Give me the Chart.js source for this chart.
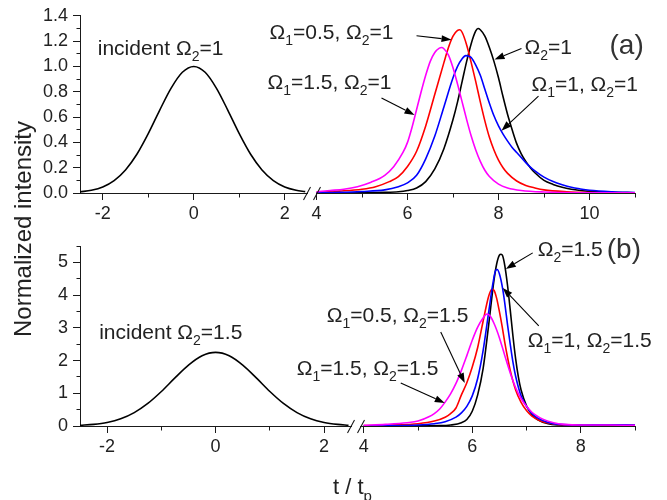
<!DOCTYPE html>
<html>
<head>
<meta charset="utf-8">
<script src="https://cdn.jsdelivr.net/npm/chart.js@4/dist/chart.umd.min.js"></script>
<style>
  html, body { margin: 0; padding: 0; background: #fff; }
  #wrap { position: relative; width: 667px; height: 500px; }
  #wrap canvas { position: absolute; left: 0; top: 0; }
</style>
</head>
<body>
<div id="wrap">
  <canvas id="panelA" width="667" height="500"></canvas>
  <canvas id="panelB" width="667" height="500"></canvas>
</div>
<script>
// ---- incident pulses (time in units of t_p) ----
const tIncident = [-2.5, -2.25, -2, -1.75, -1.5, -1.25, -1, -0.75, -0.5, -0.25, 0,
                   0.25, 0.5, 0.75, 1, 1.25, 1.5, 1.75, 2, 2.25, 2.45];
const vIncidentA = [0.009, 0.022, 0.048, 0.098, 0.182, 0.306, 0.469, 0.653, 0.827, 0.954, 1,
                    0.954, 0.827, 0.653, 0.469, 0.306, 0.182, 0.098, 0.048, 0.022, 0.011];
const vIncidentB = [0.02, 0.049, 0.108, 0.22, 0.41, 0.69, 1.055, 1.47, 1.86, 2.146, 2.25,
                    2.146, 1.86, 1.47, 1.055, 0.69, 0.41, 0.22, 0.108, 0.049, 0.024];

// ---- transmitted pulses, Omega_2 = 1 ----
const tBlackA = [4.0, 5.0, 5.5, 5.8, 6.0, 6.2, 6.4, 6.6, 6.8, 7.0, 7.1, 7.2, 7.3, 7.4, 7.5, 7.55, 7.6, 7.7, 7.8, 7.9,
                 8.0, 8.1, 8.2, 8.3, 8.4, 8.5, 8.6, 8.7, 8.8, 9.0, 9.2, 9.4, 9.6, 9.8, 10.0, 10.5, 11.0];
const vBlackA = [0.0, 0.002, 0.005, 0.01, 0.02, 0.04, 0.09, 0.19, 0.35, 0.58, 0.72, 0.88, 1.04, 1.18, 1.28, 1.30, 1.29, 1.24, 1.15, 1.04,
                 0.91, 0.76, 0.62, 0.50, 0.39, 0.31, 0.25, 0.2, 0.16, 0.10, 0.068, 0.045, 0.03, 0.02, 0.013, 0.005, 0.002];

const tRedA = [4.0, 4.5, 5.0, 5.3, 5.6, 5.8, 6.0, 6.2, 6.4, 6.6, 6.8, 6.9, 7.0, 7.1, 7.15, 7.2, 7.3, 7.4, 7.5, 7.6,
               7.7, 7.8, 7.9, 8.0, 8.1, 8.2, 8.4, 8.6, 8.8, 9.0, 9.5, 10.0, 11.0];
const vRedA = [0.005, 0.015, 0.03, 0.05, 0.09, 0.13, 0.21, 0.33, 0.53, 0.78, 1.03, 1.15, 1.24, 1.285, 1.29, 1.27, 1.17, 1.03, 0.88, 0.72,
               0.57, 0.44, 0.34, 0.26, 0.20, 0.155, 0.095, 0.06, 0.04, 0.025, 0.01, 0.004, 0.001];

const tBlueA = [4.0, 4.5, 5.0, 5.5, 5.8, 6.0, 6.2, 6.4, 6.6, 6.8, 7.0, 7.1, 7.2, 7.28, 7.35, 7.4, 7.5, 7.6, 7.7, 7.8,
                7.9, 8.0, 8.1, 8.2, 8.3, 8.4, 8.5, 8.6, 8.7, 8.8, 9.0, 9.2, 9.4, 9.6, 9.8, 10.0, 10.5, 11.0];
const vBlueA = [0.002, 0.005, 0.012, 0.025, 0.05, 0.08, 0.14, 0.27, 0.45, 0.68, 0.91, 1.00, 1.06, 1.085, 1.08, 1.07, 1.01, 0.93, 0.82, 0.71,
                0.61, 0.53, 0.465, 0.41, 0.36, 0.32, 0.28, 0.24, 0.205, 0.175, 0.125, 0.09, 0.065, 0.045, 0.032, 0.022, 0.01, 0.004];

const tMagentaA = [4.0, 4.3, 4.6, 4.9, 5.2, 5.5, 5.7, 5.9, 6.0, 6.1, 6.2, 6.3, 6.4, 6.5, 6.6, 6.7, 6.75, 6.8, 6.9, 7.0,
                   7.1, 7.2, 7.3, 7.4, 7.5, 7.6, 7.7, 7.8, 8.0, 8.2, 8.5, 9.0, 10.0, 11.0];
const vMagentaA = [0.01, 0.02, 0.03, 0.05, 0.085, 0.14, 0.21, 0.32, 0.40, 0.52, 0.66, 0.80, 0.93, 1.04, 1.11, 1.145, 1.15, 1.14, 1.09, 0.99,
                   0.86, 0.72, 0.58, 0.45, 0.34, 0.25, 0.18, 0.13, 0.07, 0.04, 0.02, 0.008, 0.002, 0.001];

// ---- transmitted pulses, Omega_2 = 1.5 ----
const tBlackB = [4.0, 5.0, 5.4, 5.6, 5.8, 5.9, 6.0, 6.1, 6.2, 6.3, 6.4, 6.45, 6.5, 6.53, 6.56, 6.6, 6.65, 6.7, 6.75, 6.8,
                 6.85, 6.9, 7.0, 7.1, 7.2, 7.4, 7.6, 8.0, 8.5, 9.0];
const vBlackB = [0.0, 0.005, 0.01, 0.03, 0.1, 0.2, 0.45, 0.95, 1.75, 3.05, 4.45, 4.95, 5.22, 5.25, 5.2, 4.9, 4.3, 3.55, 2.75, 2.05,
                 1.5, 1.1, 0.62, 0.35, 0.2, 0.07, 0.03, 0.01, 0.01, 0.01];

const tBlueB = [4.0, 4.5, 5.0, 5.3, 5.5, 5.7, 5.8, 5.9, 6.0, 6.1, 6.2, 6.3, 6.38, 6.43, 6.46, 6.5, 6.56, 6.6, 6.65, 6.7,
                6.75, 6.8, 6.9, 7.0, 7.1, 7.2, 7.4, 7.6, 8.0, 8.5, 9.0];
const vBlueB = [0.005, 0.01, 0.03, 0.07, 0.13, 0.27, 0.4, 0.6, 0.92, 1.45, 2.3, 3.45, 4.35, 4.75, 4.78, 4.65, 4.2, 3.75, 3.1, 2.5,
                1.95, 1.52, 0.92, 0.6, 0.38, 0.25, 0.11, 0.05, 0.03, 0.04, 0.03];

const tRedB = [4.0, 4.5, 5.0, 5.3, 5.5, 5.6, 5.7, 5.8, 5.9, 6.0, 6.1, 6.2, 6.3, 6.36, 6.4, 6.45, 6.5, 6.55, 6.6, 6.65,
               6.7, 6.8, 6.9, 7.0, 7.1, 7.25, 7.5, 7.8, 8.0, 8.5, 9.0];
const vRedB = [0.01, 0.03, 0.07, 0.15, 0.27, 0.38, 0.55, 0.95, 1.32, 1.8, 2.4, 3.2, 3.95, 4.18, 4.15, 3.9, 3.5, 3.05, 2.55, 2.1,
               1.7, 1.1, 0.72, 0.47, 0.3, 0.16, 0.06, 0.02, 0.02, 0.03, 0.02];

const tMagentaB = [4.0, 4.4, 4.8, 5.0, 5.2, 5.3, 5.4, 5.5, 5.6, 5.7, 5.8, 5.9, 6.0, 6.1, 6.2, 6.27, 6.32, 6.4, 6.5, 6.6,
                   6.7, 6.8, 6.9, 7.0, 7.1, 7.2, 7.3, 7.5, 7.7, 8.0, 8.5, 9.0];
const vMagentaB = [0.02, 0.05, 0.1, 0.15, 0.28, 0.38, 0.52, 0.73, 0.98, 1.3, 1.7, 2.15, 2.62, 3.02, 3.3, 3.42, 3.38, 3.14, 2.7, 2.15,
                   1.62, 1.17, 0.84, 0.6, 0.42, 0.3, 0.21, 0.1, 0.05, 0.03, 0.03, 0.02];

// ---- tick values ----
const yTicksA = [0, 0.2, 0.4, 0.6, 0.8, 1.0, 1.2, 1.4];
const yMinorA = [0.1, 0.3, 0.5, 0.7, 0.9, 1.1, 1.3];
const yTicksB = [0, 1, 2, 3, 4, 5];
const yMinorB = [0.5, 1.5, 2.5, 3.5, 4.5, 5.5];
const xTicksLeft = [-2, 0, 2];
const xMinorLeft = [-1, 1];
const xTicksRightA = [4, 6, 8, 10];
const xMinorRightA = [5, 7, 9, 11];
const xTicksRightB = [4, 6, 8];
const xMinorRightB = [5, 7, 9];

// ---- labels with arrows (subscripts written as _n) ----
const notesA = [
  { text: 'incident Ω_2=1', axis: 'xl', x: -2.11, y: 1.094 },
  { text: 'Ω_1=0.5, Ω_2=1', axis: 'xr', x: 2.967, y: 1.219, from: [6.198, 1.242], to: [6.967, 1.211] },
  { text: 'Ω_2=1', axis: 'xr', x: 8.571, y: 1.102, from: [8.505, 1.141], to: [7.912, 1.055] },
  { text: 'Ω_1=1.5, Ω_2=1', axis: 'xr', x: 2.923, y: 0.820, from: [5.429, 0.75], to: [6.154, 0.617] },
  { text: 'Ω_1=1, Ω_2=1', axis: 'xr', x: 8.725, y: 0.805, from: [8.879, 0.766], to: [8.066, 0.492] },
  { text: '(a)', axis: 'xr', x: 10.44, y: 1.102, big: true }
];
const notesB = [
  { text: 'incident Ω_2=1.5', axis: 'xl', x: -2.147, y: 2.66 },
  { text: 'Ω_2=1.5', axis: 'xr', x: 7.207, y: 5.199, from: [7.115, 5.29], to: [6.618, 4.80] },
  { text: '(b)', axis: 'xr', x: 8.479, y: 5.14, big: true },
  { text: 'Ω_1=1, Ω_2=1.5', axis: 'xr', x: 7.023, y: 2.416, from: [7.226, 3.058], to: [6.562, 4.22] },
  { text: 'Ω_1=0.5, Ω_2=1.5', axis: 'xr', x: 3.318, y: 3.18, from: [5.419, 2.875], to: [5.862, 1.315] },
  { text: 'Ω_1=1.5, Ω_2=1.5', axis: 'xr', x: 2.765, y: 1.56, from: [4.682, 1.315], to: [5.493, 0.703] }
];

const FONT = '"Liberation Sans", Arial, Helvetica, sans-serif';
const AXIS = '#1a1a1a';
const TXT = '#222';
Chart.defaults.font.family = FONT;

const pts = (ts, vs) => ts.map((t, i) => ({ x: t, y: vs[i] }));

function richParts(str) {
  const out = [];
  let buf = '';
  for (let i = 0; i < str.length; i++) {
    if (str[i] === '_') {
      if (buf) out.push([buf, false]);
      buf = '';
      out.push([str[i + 1], true]);
      i++;
    } else buf += str[i];
  }
  if (buf) out.push([buf, false]);
  return out;
}

function drawRich(ctx, str, x, y, size, color) {
  ctx.fillStyle = color;
  ctx.textAlign = 'left';
  ctx.textBaseline = 'alphabetic';
  let cx = x;
  for (const [txt, sub] of richParts(str)) {
    const fs = sub ? Math.round(size * 0.66) : size;
    ctx.font = fs + 'px ' + FONT;
    ctx.fillText(txt, cx, sub ? y + Math.round(size * 0.3) : y);
    cx += ctx.measureText(txt).width;
  }
}

function drawArrow(ctx, x1, y1, x2, y2) {
  const ang = Math.atan2(y2 - y1, x2 - x1), L = 10, W = 3.5;
  const bx = x2 - L * Math.cos(ang), by = y2 - L * Math.sin(ang);
  ctx.strokeStyle = '#000';
  ctx.fillStyle = '#000';
  ctx.lineWidth = 1.1;
  ctx.beginPath(); ctx.moveTo(x1, y1); ctx.lineTo(bx, by); ctx.stroke();
  ctx.beginPath();
  ctx.moveTo(x2, y2);
  ctx.lineTo(bx + W * Math.sin(ang), by - W * Math.cos(ang));
  ctx.lineTo(bx - W * Math.sin(ang), by + W * Math.cos(ang));
  ctx.closePath();
  ctx.fill();
}

// minor ticks, axis break marks, labels and arrows
function decor(cfg) {
  return {
    id: 'decor',
    afterDraw(chart) {
      const { ctx, scales } = chart;
      const ys = scales.y, xl = scales.xl, xr = scales.xr;
      ctx.save();
      const axisY = Math.round(xl.top - 0.5) + 0.5;
      const axisX = Math.round(ys.right - 0.5) + 0.5;
      ctx.strokeStyle = AXIS;
      ctx.lineWidth = 1;
      ctx.beginPath();
      for (const [sc, vals] of [[xl, cfg.minorL], [xr, cfg.minorR]]) {
        for (const v of vals) {
          const px = Math.round(sc.getPixelForValue(v) - 0.5) + 0.5;
          ctx.moveTo(px, axisY); ctx.lineTo(px, axisY + 4);
        }
      }
      for (const v of cfg.minorY) {
        const py = Math.round(ys.getPixelForValue(v) - 0.5) + 0.5;
        ctx.moveTo(axisX - 4, py); ctx.lineTo(axisX, py);
      }
      ctx.stroke();

      // break between the two time ranges
      const b = xl.right;
      ctx.fillStyle = '#fff';
      ctx.fillRect(b - 4, axisY - 1.5, 8, 3);
      ctx.strokeStyle = AXIS;
      ctx.lineWidth = 1.1;
      ctx.beginPath();
      for (const c of [b - 5, b + 5]) {
        ctx.moveTo(c - 3.5, axisY + 6.5);
        ctx.lineTo(c + 3.5, axisY - 6.5);
      }
      ctx.stroke();

      for (const n of cfg.notes) {
        const sx = scales[n.axis];
        if (n.from) {
          drawArrow(ctx, sx.getPixelForValue(n.from[0]), ys.getPixelForValue(n.from[1]),
                         sx.getPixelForValue(n.to[0]), ys.getPixelForValue(n.to[1]));
        }
        drawRich(ctx, n.text, sx.getPixelForValue(n.x), ys.getPixelForValue(n.y),
                 n.big ? 28 : 21, n.big ? '#333' : TXT);
      }

      if (cfg.titles) {
        ctx.save();
        ctx.translate(31, 229);
        ctx.rotate(-Math.PI / 2);
        ctx.font = '24px ' + FONT;
        ctx.fillStyle = TXT;
        ctx.textAlign = 'center';
        ctx.textBaseline = 'alphabetic';
        ctx.fillText('Normalized intensity', 0, 0);
        ctx.restore();
        drawRich(ctx, 't / t_p', 333, 494, 22, TXT);
      }
      ctx.restore();
    }
  };
}

function xAxis(a) {
  return {
    type: 'linear', position: 'bottom', stack: 'time', stackWeight: a.weight,
    min: a.min, max: a.max,
    afterBuildTicks: s => { s.ticks = a.ticks.map(v => ({ value: v })); },
    afterFit: s => { s.height = 30; },
    grid: { display: true, drawOnChartArea: false, drawTicks: true, tickLength: 7, color: AXIS, lineWidth: 1 },
    border: { display: true, color: AXIS, width: 1 },
    ticks: { autoSkip: false, maxRotation: 0, minRotation: 0, padding: 3, color: TXT, font: { size: 18 },
             callback: v => String(v) }
  };
}

function yAxis(a) {
  return {
    type: 'linear', position: 'left', min: a.min, max: a.max,
    afterBuildTicks: s => { s.ticks = a.ticks.map(v => ({ value: v })); },
    afterFit: s => { s.width = 80; },
    grid: { display: true, drawOnChartArea: false, drawTicks: true, tickLength: 7, color: AXIS, lineWidth: 1 },
    border: { display: true, color: AXIS, width: 1 },
    ticks: { padding: 5, color: TXT, font: { size: 18 }, callback: a.fmt }
  };
}

function line(data, color, axis) {
  return { data, borderColor: color, backgroundColor: color, xAxisID: axis, yAxisID: 'y',
           borderWidth: 1.6, pointRadius: 0, cubicInterpolationMode: 'monotone', fill: false };
}

function panel(id, o) {
  return new Chart(document.getElementById(id), {
    type: 'line',
    data: { datasets: o.datasets },
    options: {
      responsive: false, animation: false, events: [], devicePixelRatio: 1,
      layout: { padding: o.padding },
      plugins: { legend: { display: false }, tooltip: { enabled: false } },
      scales: { y: yAxis(o.y), xl: xAxis(o.xl), xr: xAxis(o.xr) }
    },
    plugins: [decor(o.decor)]
  });
}

panel('panelA', {
  padding: { left: 0, top: 14, right: 32, bottom: 277 },
  datasets: [
    line(pts(tMagentaA, vMagentaA), '#ff00ff', 'xr'),
    line(pts(tBlueA, vBlueA), '#0000ff', 'xr'),
    line(pts(tRedA, vRedA), '#ff0000', 'xr'),
    line(pts(tBlackA, vBlackA), '#000000', 'xr'),
    line(pts(tIncident, vIncidentA), '#000000', 'xl')
  ],
  y: { min: 0, max: 1.4, ticks: yTicksA, fmt: v => v.toFixed(1) },
  xl: { min: -2.5, max: 2.599, weight: 232, ticks: xTicksLeft },
  xr: { min: 3.901, max: 11, weight: 323, ticks: xTicksRightA },
  decor: { minorL: xMinorLeft, minorR: xMinorRightA, minorY: yMinorA, notes: notesA }
});

panel('panelB', {
  padding: { left: 0, top: 246, right: 32, bottom: 44 },
  datasets: [
    line(pts(tMagentaB, vMagentaB), '#ff00ff', 'xr'),
    line(pts(tBlueB, vBlueB), '#0000ff', 'xr'),
    line(pts(tRedB, vRedB), '#ff0000', 'xr'),
    line(pts(tBlackB, vBlackB), '#000000', 'xr'),
    line(pts(tIncident, vIncidentB), '#000000', 'xl')
  ],
  y: { min: 0, max: 5.5, ticks: yTicksB, fmt: v => String(v) },
  xl: { min: -2.5, max: 2.5876, weight: 276, ticks: xTicksLeft },
  xr: { min: 3.857, max: 9, weight: 279, ticks: xTicksRightB },
  decor: { minorL: xMinorLeft, minorR: xMinorRightB, minorY: yMinorB, notes: notesB, titles: true }
});
</script>
</body>
</html>
